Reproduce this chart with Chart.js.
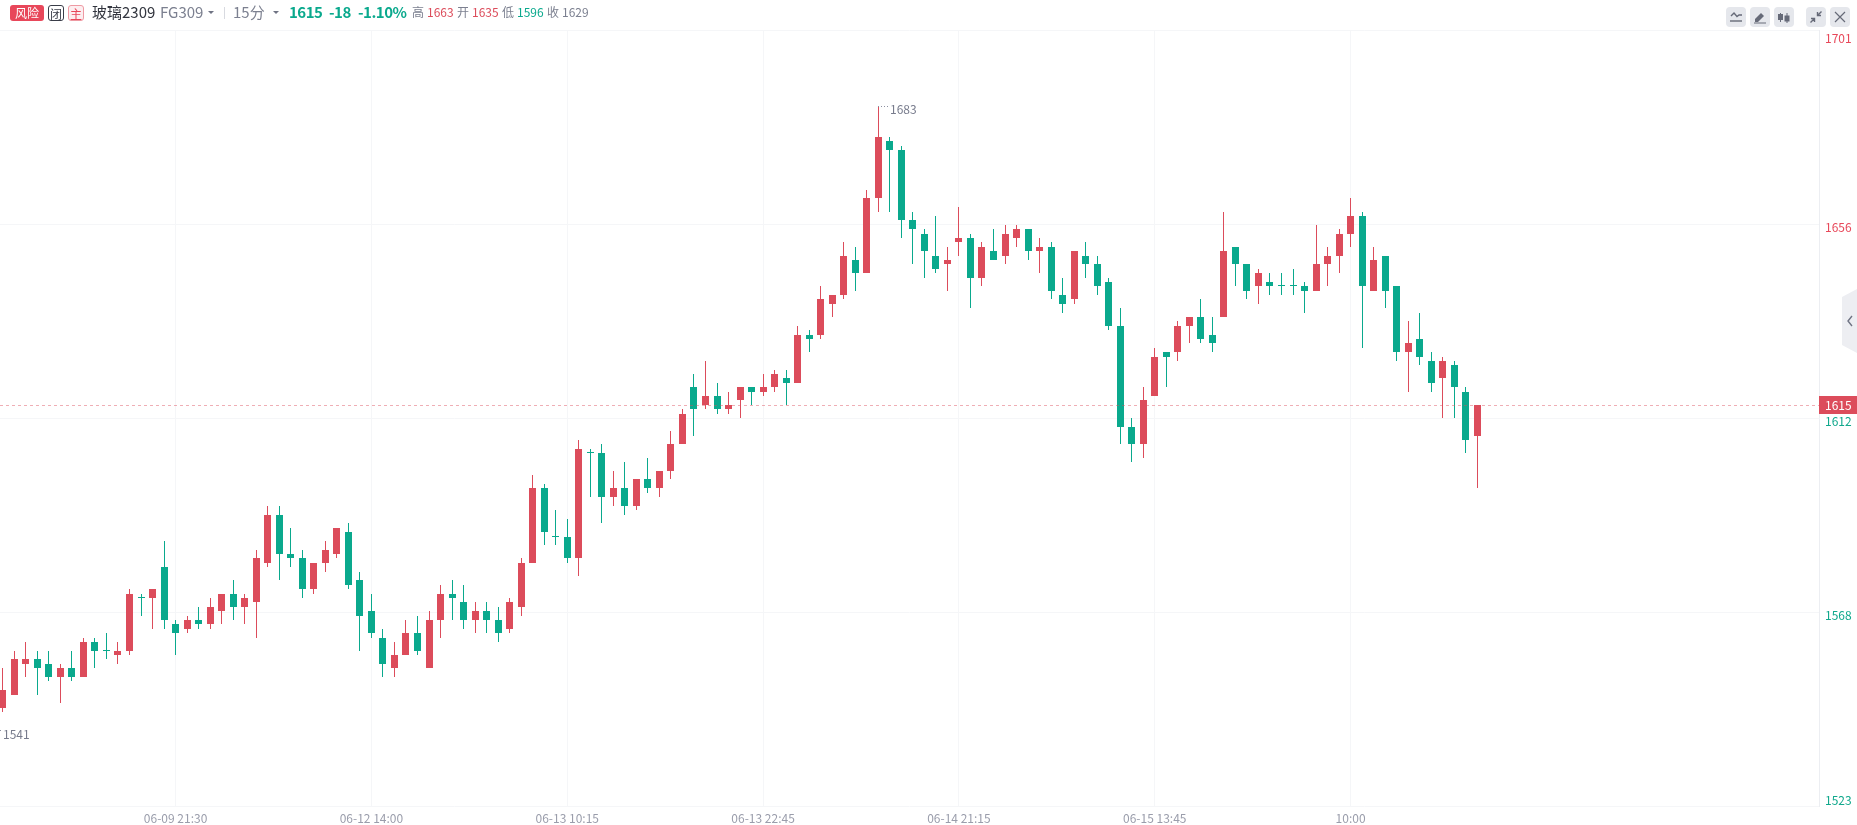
<!DOCTYPE html>
<html>
<head>
<meta charset="utf-8">
<title>玻璃2309 FG309</title>
<script src="https://cdn.jsdelivr.net/npm/chart.js@4/dist/chart.umd.js"></script>
<style>
  html, body { margin: 0; padding: 0; background: #fff; overflow: hidden; }
  body { width: 1857px; height: 825px; position: relative; font-family: "Noto Sans CJK SC", "Noto Sans", sans-serif; }
  canvas { position: absolute; left: 0; top: 0; }
  .t { position: absolute; top: 2px; height: 20px; line-height: 20px; white-space: nowrap; font-size: 12px; color: #7c8090; }
  .big { font-size: 15px; }
  .num { font-size: 15px; font-weight: 700; color: #0aa98d; letter-spacing: -0.5px; }
  .red { color: #dc4c5b; }
  .green { color: #0aa98d; }
  .badge { position: absolute; top: 5px; height: 16px; line-height: 15px; text-align: center; font-size: 12px; box-sizing: border-box; border-radius: 3px; }
  .caret { position: absolute; top: 11px; width: 0; height: 0; border-left: 3px solid transparent; border-right: 3px solid transparent; border-top: 3px solid #6f7383; }
  .btn { position: absolute; top: 7px; width: 20px; height: 20px; background: #e5e7ec; border-radius: 4px; }
  .btn svg { display: block; }
</style>
</head>
<body>
<canvas id="kline" width="1857" height="825"></canvas>

<div class="badge" style="left:10px;width:34px;background:#e8475a;color:#fff">风险</div>
<div class="badge" style="left:48px;width:16px;border:1px solid #3a3d48;color:#3a3d48">闭</div>
<div class="badge" style="left:68px;width:16px;border:1px solid #ee9aa3;background:#fdeef0;color:#e8475a">主</div>
<span class="t big" style="left:92px;color:#33363f">玻璃2309</span>
<span class="t big" style="left:160px">FG309</span>
<i class="caret" style="left:208px"></i>
<div style="position:absolute;left:224px;top:7px;width:1px;height:12px;background:#d8dae0"></div>
<span class="t big" style="left:233px">15分</span>
<i class="caret" style="left:273px"></i>
<span class="t num" style="left:289px">1615</span>
<span class="t num" style="left:329px">-18</span>
<span class="t num" style="left:358px">-1.10%</span>
<span class="t" style="left:412px">高</span><span class="t red" style="left:427px">1663</span>
<span class="t" style="left:457px">开</span><span class="t red" style="left:472px">1635</span>
<span class="t" style="left:502px">低</span><span class="t green" style="left:517px">1596</span>
<span class="t" style="left:547px">收</span><span class="t" style="left:562px">1629</span>

<div class="btn" style="left:1726px"><svg width="20" height="20" fill="none" stroke="#666a78" stroke-width="1.4"><path d="M5 9l3-3 3 3.5 2-1.5h3"/><path d="M4 14h12"/></svg></div>
<div class="btn" style="left:1750px"><svg width="20" height="20" fill="#666a78"><path d="M5 12l6-6 3 3-6 6H5z"/><path d="M4 15.5h12v1H4z"/></svg></div>
<div class="btn" style="left:1774px"><svg width="20" height="20" fill="#666a78" stroke="#666a78"><path d="M6.5 6v9M13 6v10" fill="none"/><rect x="4.5" y="7.5" width="4" height="5"/><rect x="11" y="9" width="4" height="5"/></svg></div>
<div class="btn" style="left:1806px"><svg width="20" height="20" fill="none" stroke="#666a78" stroke-width="1.4"><path d="M4.5 15.5l4-4M15.5 4.5l-4 4M8.5 15v-3.5H5M11.5 5v3.5H15"/></svg></div>
<div class="btn" style="left:1830px"><svg width="20" height="20" fill="none" stroke="#666a78" stroke-width="1.2"><path d="M5 5l10 10M15 5L5 15"/></svg></div>

<svg style="position:absolute;left:1842px;top:288px" width="15" height="66">
  <path d="M15 1L0 9v48l15 8z" fill="#edeef2"/>
  <path d="M10 28l-4 5 4 5" fill="none" stroke="#6f7383" stroke-width="1.4"/>
</svg>

<script>
// 15 minute candles
const opens = [1546,1549,1556,1557,1556,1553,1555,1553,1561,1559,1558,1559,1571,1571,1578,1565,1564,1566,1565,1568,1572,1569,1570,1579,1590,1581,1580,1573,1579,1581,1586,1575,1568,1562,1555,1558,1563,1555,1566,1572,1570,1566,1568,1566,1564,1569,1579,1596,1585,1585,1580,1604,1604,1594,1596,1592,1598,1596,1600,1606,1619,1615,1617,1614,1616,1619,1618,1619,1621,1620,1631,1631,1638,1640,1648,1645,1662,1675,1673,1657,1654,1649,1647,1652,1653,1644,1650,1649,1653,1655,1650,1651,1640,1639,1649,1647,1643,1633,1610,1606,1617,1627,1627,1633,1635,1631,1635,1651,1647,1642,1643,1642,1642,1642,1641,1647,1649,1654,1658,1641,1649,1642,1627,1630,1625,1621,1624,1618,1608];
const closes = [1550,1557,1557,1555,1553,1555,1553,1561,1559,1559,1559,1572,1571,1573,1566,1563,1566,1565,1569,1572,1569,1571,1580,1590,1581,1580,1573,1579,1582,1587,1574,1567,1563,1556,1558,1563,1559,1566,1572,1571,1566,1568,1566,1563,1570,1579,1596,1586,1585,1580,1605,1604,1594,1596,1592,1598,1596,1600,1606,1613,1614,1617,1614,1615,1619,1618,1619,1622,1620,1631,1630,1639,1640,1649,1645,1662,1676,1673,1657,1655,1650,1646,1648,1653,1644,1651,1648,1654,1655,1650,1651,1641,1638,1650,1647,1642,1633,1610,1606,1616,1626,1626,1633,1635,1630,1629,1650,1647,1641,1645,1642,1642,1642,1641,1647,1649,1654,1658,1642,1648,1641,1627,1629,1626,1620,1625,1619,1607,1615];
const highs = [1555,1559,1561,1559,1559,1556,1559,1562,1562,1563,1561,1573,1572,1573,1584,1566,1567,1569,1571,1572,1575,1572,1582,1592,1592,1587,1582,1579,1584,1587,1588,1577,1572,1564,1561,1566,1567,1568,1574,1575,1574,1570,1570,1569,1571,1580,1599,1597,1591,1589,1607,1605,1606,1600,1602,1598,1603,1600,1609,1614,1622,1625,1620,1618,1619,1619,1622,1623,1623,1633,1632,1642,1640,1652,1651,1664,1683,1676,1674,1659,1655,1658,1651,1660,1654,1652,1655,1656,1656,1655,1653,1652,1644,1650,1652,1649,1644,1637,1612,1619,1628,1627,1634,1635,1639,1635,1659,1651,1647,1646,1645,1645,1646,1643,1656,1651,1655,1662,1659,1651,1649,1642,1634,1636,1627,1626,1625,1619,1615];
const lows = [1545,1549,1553,1549,1552,1547,1552,1553,1555,1557,1556,1558,1567,1564,1564,1558,1563,1564,1564,1565,1566,1565,1562,1578,1575,1578,1571,1572,1577,1580,1573,1559,1562,1553,1553,1558,1558,1555,1562,1566,1564,1563,1563,1561,1563,1567,1579,1583,1583,1579,1576,1594,1588,1592,1590,1591,1595,1594,1598,1606,1608,1614,1613,1613,1612,1615,1617,1618,1615,1620,1627,1630,1635,1639,1641,1645,1659,1659,1653,1647,1644,1645,1641,1649,1637,1642,1648,1647,1651,1648,1645,1639,1636,1638,1644,1640,1632,1606,1602,1603,1617,1619,1625,1629,1629,1627,1635,1642,1639,1638,1640,1640,1640,1636,1641,1642,1645,1651,1628,1641,1637,1625,1618,1624,1618,1612,1612,1604,1596];

// axis ticks
const priceTicks = [1700.38, 1656.19, 1612, 1567.81, 1523.62];
const priceTickLabels = ['1701', '1656', '1612', '1568', '1523'];
const timeTickIndexes = [15, 32, 49, 66, 83, 100, 117];
const timeTickLabels = ['06-09 21:30', '06-12 14:00', '06-13 10:15', '06-13 22:45', '06-14 21:15', '06-15 13:45', '10:00'];

const lastPrice = 1615;
const viewHigh = 1683;
const viewLow = 1541; // candle is scrolled off the left edge
const highIndex = highs.indexOf(viewHigh);

const RED = '#dc4c5b';
const GREEN = '#0aa98d';
const candleColors = closes.map((c, i) => c > opens[i] ? RED : GREEN);
const indexes = closes.map((c, i) => i);

// candles land on whole pixels in the original, so snap the bars after layout
const snapBars = {
  id: 'snapBars',
  afterDatasetsUpdate(chart) {
    chart.data.datasets.forEach((ds, d) => {
      chart.getDatasetMeta(d).data.forEach(bar => {
        bar.x = Math.floor(bar.x) + 0.5;
        bar.y = Math.round(bar.y);
        bar.base = Math.round(bar.base);
        if (bar.base === bar.y) bar.base = bar.y + 1;
      });
    });
  }
};

const overlay = {
  id: 'overlay',
  afterDraw(chart) {
    const ctx = chart.ctx;
    const x = chart.scales.x;
    const y = chart.scales.y;
    const area = chart.chartArea;
    const font = '12px "Noto Sans CJK SC", "Noto Sans", sans-serif';
    ctx.save();
    ctx.font = font;
    ctx.textBaseline = 'middle';

    // last price line
    const lastY = Math.round(y.getPixelForValue(lastPrice));
    ctx.strokeStyle = 'rgba(220,76,91,0.45)';
    ctx.setLineDash([3, 3]);
    ctx.beginPath();
    ctx.moveTo(0, lastY + 0.5);
    ctx.lineTo(area.right, lastY + 0.5);
    ctx.stroke();

    // high / low marks
    ctx.strokeStyle = '#8d90a0';
    ctx.setLineDash([1, 2]);
    const highX = Math.floor(x.getPixelForValue(highIndex));
    const highY = Math.round(y.getPixelForValue(viewHigh));
    const lowY = Math.round(y.getPixelForValue(viewLow));
    ctx.beginPath();
    ctx.moveTo(highX, highY + 0.5);
    ctx.lineTo(highX + 10, highY + 0.5);
    ctx.moveTo(0, lowY + 0.5);
    ctx.lineTo(2, lowY + 0.5);
    ctx.stroke();
    ctx.setLineDash([]);
    ctx.fillStyle = '#777b8c';
    ctx.textAlign = 'left';
    ctx.fillText(String(viewHigh), highX + 12, highY + 3);
    ctx.fillText(String(viewLow), 3, lowY + 4);

    // price labels sit a little under their grid line, the end ones pulled inside
    y.ticks.forEach((tick, i) => {
      let off = 3;
      if (i === 0) off = 8;
      if (i === y.ticks.length - 1) off = -6;
      ctx.fillStyle = tick.value > lastPrice ? '#e8485a' : '#10a88c';
      ctx.fillText(tick.label, area.right + 6, y.getPixelForTick(i) + off);
    });

    // last price box
    ctx.fillStyle = RED;
    ctx.fillRect(area.right, lastY - 9, 38, 18);
    ctx.fillStyle = '#fff';
    ctx.fillText(String(lastPrice), area.right + 6, lastY + 0.5);
    ctx.restore();
  }
};

new Chart(document.getElementById('kline'), {
  type: 'bar',
  data: {
    datasets: [
      {
        label: 'body',
        data: indexes.map(i => ({ x: i, y: [opens[i], closes[i]] })),
        backgroundColor: candleColors,
        barThickness: 7,
        minBarLength: 1,
        grouped: false,
        inflateAmount: 0
      },
      {
        label: 'wick',
        data: indexes.map(i => ({ x: i, y: [lows[i], highs[i]] })),
        backgroundColor: candleColors,
        barThickness: 1,
        minBarLength: 1,
        grouped: false,
        inflateAmount: 0
      }
    ]
  },
  options: {
    responsive: false,
    animation: false,
    layout: { padding: { top: 30, left: 0, right: 0, bottom: 0 } },
    plugins: { legend: { display: false }, tooltip: { enabled: false } },
    scales: {
      x: {
        type: 'linear',
        min: -0.243,
        max: 157.66,
        offset: false,
        afterBuildTicks: s => { s.ticks = timeTickIndexes.map(v => ({ value: v })); },
        afterFit: s => { s.height = 19; },
        border: { display: false },
        grid: { color: '#f5f6f8', drawTicks: false, offset: false },
        ticks: {
          autoSkip: false,
          maxRotation: 0,
          padding: 5,
          color: '#9a9dab',
          font: { size: 12, family: '"Noto Sans CJK SC", "Noto Sans", sans-serif' },
          callback: (v, i) => timeTickLabels[i]
        }
      },
      y: {
        position: 'right',
        min: 1523.62,
        max: 1700.38,
        afterBuildTicks: s => { s.ticks = priceTicks.map(v => ({ value: v })); },
        afterFit: s => { s.width = 38; },
        border: { color: '#eceef2' },
        grid: { color: '#f5f6f8', drawTicks: false },
        ticks: { display: false, callback: (v, i) => priceTickLabels[i] }
      }
    }
  },
  plugins: [snapBars, overlay]
});
</script>
</body>
</html>
